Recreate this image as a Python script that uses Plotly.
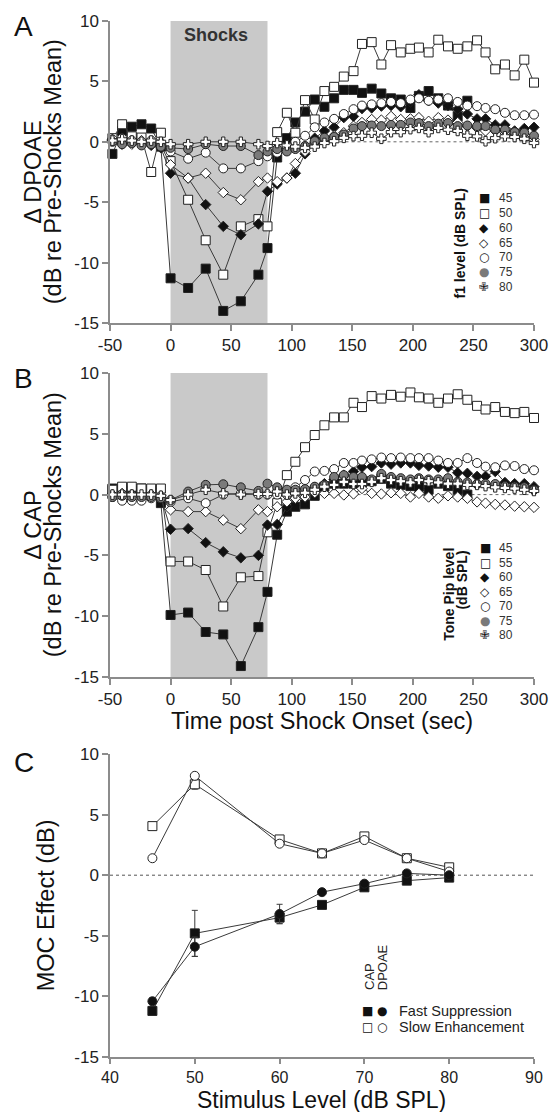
import plotly.graph_objects as go

# ---------------- data ----------------
T_PRE = [-48, -40, -32, -24, -16, -8]
T_SHOCK = [0, 14.5, 29, 43.5, 58, 72.5]
T_POST = [80, 88, 96, 103, 111, 119, 127, 135, 143, 151, 158, 166, 174, 182, 190,
          198, 205, 213, 221, 229, 237, 245, 253, 260, 268, 276, 284, 292, 300]
TIME = T_PRE + T_SHOCK + T_POST

# Panel A: DPOAE change, by f1 level
A_LEVELS = ["45", "50", "60", "65", "70", "75", "80"]
A_45 = [-1.0, 0.9, 1.25, 1.45, 1.1, -0.4,
        -11.3, -12.1, -10.5, -14.0, -13.2, -11.0,
        -8.8, -1.3, 0.3, 1.6, 2.5, 3.5, 2.9, 3.6, 4.3, 4.3, 4.05, 4.4, 4.0, 3.6, 3.5,
        2.8, 3.8, 4.2, 3.6, 3.0, 2.1, 3.4]
A_50 = [0.3, 1.45, 0.45, 0.35, -2.5, 0.75,
        -1.6, -4.8, -8.15, -11.0, -7.0, -6.4,
        -7.0, 0.8, 2.4, 0.75, 3.45, 1.85, 4.2, 4.55, 5.4, 5.85, 8.1, 8.25, 6.4, 8.0, 7.4,
        7.7, 7.8, 7.4, 8.45, 7.9, 7.7, 7.9, 8.4, 7.4, 6.0, 6.4, 5.5, 6.8, 4.9]
A_60 = [0.1, -0.2, 0.1, -0.2, -0.3, -0.5,
        -2.6, -3.0, -5.2, -7.0, -7.7, -6.8,
        -4.1, -3.5, -3.0, -2.6, -1.0, 0.3, 0.9, 1.2, 2.0, 2.1, 2.75, 2.8, 2.95, 3.0, 2.9,
        3.3, 3.9, 3.4, 3.2, 3.0, 2.7, 2.3, 1.9, 1.9, 1.4, 1.4, 0.9, 1.1, 1.2]
A_65 = [0.2, 0.0, -0.2, 0.1, -0.1, -0.3,
        -1.9, -3.0, -2.6, -4.2, -4.8, -3.3,
        -3.0, -3.3, -3.0, -1.8, -0.8, -0.1, 0.2, 0.5, 0.75, 1.3, 1.6, 1.85, 1.8, 2.1, 1.85,
        1.9, 2.0, 1.7, 2.0, 1.8, 1.6, 1.3, 1.15, 0.9, 0.9, 0.75, 0.5, 0.35, 0.2]
A_70 = [0.2, 0.3, 0.1, 0.0, 0.1, -0.2,
        -0.8, -1.4, -0.9, -2.2, -2.2, -1.6,
        -1.2, -0.9, -0.5, 0.0, 0.5, 1.2, 1.6, 1.9, 2.3, 2.7, 3.0, 3.1, 3.2, 3.3, 3.2,
        3.5, 3.6, 3.4, 3.5, 3.6, 3.3, 3.0, 2.95, 2.8, 2.7, 2.4, 2.2, 2.2, 2.25]
A_75 = [0.0, -0.2, -0.1, -0.3, -0.2, -0.4,
        -0.5, -0.6, -0.2, -0.35, -0.35, -1.1,
        -0.8, -0.6, -0.8, -0.6, -0.35, 0.05, 0.33, 0.4, 0.6, 1.1, 1.3, 1.35, 1.3, 1.4, 1.4,
        1.6, 1.55, 1.3, 1.5, 1.55, 1.3, 1.35, 1.3, 1.3, 1.0, 1.0, 0.8, 0.75, 0.5]
A_80 = [0.1, 0.2, 0.1, 0.0, 0.1, 0.0,
        -0.2, -0.2, 0.0, 0.0, 0.0, -0.2,
        -0.35, -0.1, -0.3, -0.4, -0.5, -0.4, -0.1, 0.05, 0.33, 0.47, 0.5, 0.75, 0.25, 0.8, 0.8,
        1.05, 1.15, 0.8, 1.15, 1.0, 0.9, 0.5, 0.45, 0.05, 0.3, 0.45, 0.4, 0.25, -0.1]

# Panel B: CAP change, by tone pip level
B_LEVELS = ["45", "55", "60", "65", "70", "75", "80"]
B_45 = [0.5, 0.4, 0.3, 0.5, 0.3, -0.7,
        -9.9, -9.7, -11.3, -11.5, -14.1, -10.9,
        -8.0, -3.3, -1.4, -1.0, -0.8, -0.1, 0.65, 0.9, 0.9, 0.9, 1.0, 1.1, 1.3, 0.9, 0.8,
        0.7, 0.65, 0.4, 0.9, 0.7, 0.4, 0.0]
B_55 = [0.4, 0.65, 0.65, 0.5, 0.5, 0.5,
        -5.5, -5.5, -6.2, -9.2, -6.8, -6.7,
        -3.1, -0.7, 1.6, 2.7, 3.9, 4.9, 5.7, 6.35, 6.35, 7.55, 7.2, 8.1, 7.9, 8.2, 8.05,
        8.4, 8.0, 7.9, 7.55, 7.9, 8.25, 7.8, 7.3, 7.0, 7.2, 6.8, 6.7, 6.8, 6.3]
B_60 = [0.0, -0.1, 0.0, -0.1, 0.0, -0.2,
        -2.85, -2.8, -3.95, -4.7, -5.2, -5.0,
        -2.5, -2.45, -1.0, -0.3, 0.2, 0.6, 0.9, 1.25, 1.6, 1.9, 2.25, 2.3, 2.6, 2.5, 2.6,
        2.6, 2.4, 2.35, 2.25, 2.25, 1.8, 1.75, 1.5, 1.5, 1.9, 1.0, 0.9, 0.9, 0.65]
B_65 = [0.0, 0.1, 0.0, -0.1, 0.0, -0.1,
        -1.25, -1.4, -1.4, -2.1, -2.8, -1.25,
        -1.4, -1.0, -0.6, -0.3, -0.2, 0.15, 0.1, 0.1, -0.03, 0.05, 0.5, 0.1, 0.05, 0.15, 0.1,
        -0.2, 0.1, -0.2, -0.3, -0.1, -0.2, -0.3, -0.6, -0.7, -0.8, -0.85, -0.95, -1.0, -1.05]
B_70 = [-0.2, -0.5, -0.5, -0.5, -0.3, -0.3,
        -0.6, -0.3, -0.7, 0.0, 0.1, 0.0,
        0.0, 0.0, 0.0, 0.6, 1.2, 1.9, 1.95, 2.1, 2.6, 2.6, 2.8, 2.9, 3.05, 3.0, 3.05,
        3.0, 3.0, 3.0, 2.8, 2.6, 2.6, 3.0, 2.6, 2.3, 2.25, 2.4, 2.35, 2.1, 2.0]
B_75 = [-0.2, -0.1, -0.2, -0.2, -0.2, -0.3,
        -0.45, 0.25, 0.8, 0.85, 0.6, 0.3,
        0.9, 0.6, 0.4, 0.4, 0.45, 0.65, 0.8, 1.45, 1.6, 1.45, 1.45, 1.25, 1.7, 1.45, 1.35,
        1.25, 1.35, 1.25, 1.25, 1.35, 1.05, 1.0, 0.87, 0.9, 0.87, 0.7, 0.65, 0.6, 0.4]
B_80 = [0.0, 0.0, 0.0, 0.0, 0.0, -0.1,
        -0.45, 0.0, 0.4, 0.1, 0.0, 0.05,
        0.05, 0.25, 0.0, 0.1, 0.15, 0.4, 0.65, 0.8, 1.05, 0.87, 0.87, 1.05, 1.35, 1.2, 1.1,
        1.0, 1.2, 1.1, 1.0, 0.9, 0.9, 0.8, 0.8, 0.7, 0.6, 0.55, 0.5, 0.4, 0.3]

# Panel C: MOC effect vs stimulus level
LEVEL = [45, 50, 60, 65, 70, 75, 80]
CAP_FAST = [-11.2, -4.8, -3.5, -2.45, -1.0, -0.45, -0.2]
CAP_FAST_ERR = [0.3, 1.9, 0.5, 0.0, 0.0, 0.0, 0.0]
DPOAE_FAST = [-10.4, -5.9, -3.2, -1.4, -0.7, 0.15, 0.0]
DPOAE_FAST_ERR = [0.3, 0.8, 0.8, 0.0, 0.0, 0.0, 0.0]
CAP_SLOW = [4.05, 7.5, 2.95, 1.8, 3.2, 1.4, 0.65]
CAP_SLOW_ERR = [0.0, 0.4, 0.0, 0.0, 0.0, 0.0, 0.0]
DPOAE_SLOW = [1.4, 8.2, 2.6, 1.8, 2.9, 1.4, 0.3]

# tick labels (hyphen-minus as in the reference)
TIME_TICKS = [-50, 0, 50, 100, 150, 200, 250, 300]
LEVEL_TICKS = [40, 50, 60, 70, 80, 90]
DB_TICKS = [-15, -10, -5, 0, 5, 10]

# ---------------- layout helpers ----------------
W, H = 560, 1112
ML, MR, MT, MB = 110, 17, 21, 55
PW, PH = W - ML - MR, H - MT - MB


def px(x):
    return (x - ML) / PW


def py(y):
    return (H - MB - y) / PH


FONT = "Liberation Sans, Arial, Helvetica, sans-serif"
SYM = "DejaVu Sans"
AX_COL = "#8c8c8c"
LINE_COL = "#3a3a3a"
EDGE = "#222222"

STYLE = [  # symbol, fill, size
    ("square", "#111111", 9),
    ("square", "#ffffff", 9),
    ("diamond", "#111111", 8),
    ("diamond", "#ffffff", 8),
    ("circle", "#ffffff", 9),
    ("circle", "#7a7a7a", 9),
    ("cross", "#ffffff", 8),
]

fig = go.Figure()


def add_series(xs, ys, idx, xa, ya):
    sym, fill, size = STYLE[idx]
    fig.add_trace(go.Scatter(
        x=xs[:len(ys)], y=ys, mode="lines+markers", xaxis=xa, yaxis=ya,
        line=dict(color=LINE_COL, width=1),
        marker=dict(symbol=sym, color=fill, size=size, line=dict(color=EDGE, width=1)),
        cliponaxis=False, showlegend=False, hoverinfo="skip"))


for i, ys in enumerate([A_45, A_50, A_60, A_65, A_70, A_75, A_80]):
    add_series(TIME, ys, i, "x", "y")
for i, ys in enumerate([B_45, B_55, B_60, B_65, B_70, B_75, B_80]):
    add_series(TIME, ys, i, "x2", "y2")


def add_c(ys, err, sym, fill):
    fig.add_trace(go.Scatter(
        x=LEVEL, y=ys, mode="lines+markers", xaxis="x3", yaxis="y3",
        line=dict(color=LINE_COL, width=1),
        marker=dict(symbol=sym, color=fill, size=9, line=dict(color=EDGE, width=1)),
        error_y=dict(type="data", array=err, color=LINE_COL, thickness=1, width=3,
                     visible=err is not None),
        cliponaxis=False, showlegend=False, hoverinfo="skip"))


add_c(CAP_SLOW, CAP_SLOW_ERR, "square", "#ffffff")
add_c(DPOAE_SLOW, None, "circle", "#ffffff")
add_c(CAP_FAST, CAP_FAST_ERR, "square", "#111111")
add_c(DPOAE_FAST, DPOAE_FAST_ERR, "circle", "#111111")

axis_common = dict(showline=True, linecolor=AX_COL, linewidth=1.5, ticks="outside",
                   tickwidth=1.5, tickcolor=AX_COL, showgrid=False, zeroline=False)
TICKFONT = dict(family=FONT, size=17, color="#222")


def labels(vals):
    return [str(v).replace("\u2212", "-") for v in vals]


yt = dict(range=[-15, 10], tickvals=DB_TICKS, ticktext=labels(DB_TICKS), ticklen=6,
          tickfont=TICKFONT, **axis_common)
xt = dict(range=[-50, 300], tickvals=TIME_TICKS, ticktext=labels(TIME_TICKS), ticklen=6,
          tickfont=TICKFONT, **axis_common)

fig.update_layout(
    width=W, height=H, margin=dict(l=ML, r=MR, t=MT, b=MB),
    paper_bgcolor="white", plot_bgcolor="white",
    xaxis=dict(domain=[0, 1], anchor="y", **xt),
    yaxis=dict(domain=[py(323), py(21)], anchor="x", **yt),
    xaxis2=dict(domain=[0, 1], anchor="y2", **xt),
    yaxis2=dict(domain=[py(677), py(373)], anchor="x2", **yt),
    xaxis3=dict(domain=[0, 1], anchor="y3", range=[40, 90], tickvals=LEVEL_TICKS,
                ticktext=labels(LEVEL_TICKS), ticklen=5,
                tickfont=dict(family=FONT, size=16, color="#222"), **axis_common),
    yaxis3=dict(domain=[py(1057), py(754)], anchor="x3", **yt),
)

# shock shading + zero lines
for xr, yr in [("x", "y"), ("x2", "y2")]:
    fig.add_shape(type="rect", xref=xr, yref=yr, x0=0, x1=80, y0=-15, y1=10,
                  fillcolor="#c9c9c9", line=dict(width=0), layer="below")
    fig.add_shape(type="line", xref=xr, yref=yr, x0=80, x1=300, y0=0, y1=0,
                  line=dict(color="#666", width=1, dash="dot"), layer="below")
fig.add_shape(type="line", xref="x3", yref="y3", x0=40, x1=90, y0=0, y1=0,
              line=dict(color="#555", width=1, dash="dot"), layer="below")


def ann(text, x, y, size, xanchor="center", yanchor="middle", angle=0, family=FONT,
        color="#111", bold=False):
    if bold:
        text = "<b>" + text + "</b>"
    fig.add_annotation(text=text, x=px(x), y=py(y), xref="paper", yref="paper",
                       showarrow=False, xanchor=xanchor, yanchor=yanchor,
                       textangle=angle, font=dict(family=family, size=size, color=color))


# panel letters
ann("A", 22, 27, 28)
ann("B", 22, 378, 28)
ann("C", 22, 762, 28)

# titles
ann("Shocks", 218, 35, 18, bold=True, color="#333")
ann("\u0394 DPOAE", 31, 172, 23.5, angle=-90)
ann("(dB re Pre-Shocks Mean)", 52, 172, 23.5, angle=-90)
ann("\u0394 CAP", 31, 525, 23.5, angle=-90)
ann("(dB re Pre-Shocks Mean)", 52, 525, 23.5, angle=-90)
ann("MOC Effect (dB)", 45, 905, 23.5, angle=-90)
ann("Time post Shock Onset (sec)", 326, 721, 23.5)
ann("Stimulus Level (dB SPL)", 326, 1099.5, 23)

# legends A and B
GLYPHS = [("\u25A0", "#111"), ("\u25A1", "#111"), ("\u25C6", "#111"), ("\u25C7", "#111"),
          ("\u25CB", "#111"), ("\u25CF", "#7a7a7a"), ("\u2719", "#111")]
A_ROWS = [198, 213, 228, 243, 257, 272, 287]
B_ROWS = [548, 563, 577, 592, 606, 621, 635]
for (g, c), lab, ya in zip(GLYPHS, A_LEVELS, A_ROWS):
    ann(g, 492, ya, 12, family=SYM, color=c)
    ann(lab, 505, ya, 12, xanchor="left", color="#333")
for (g, c), lab, yb in zip(GLYPHS, B_LEVELS, B_ROWS):
    ann(g, 493, yb, 12, family=SYM, color=c)
    ann(lab, 505, yb, 12, xanchor="left", color="#333")
ann("f1 level (dB SPL)", 467, 244, 14, angle=-90, bold=True)
ann("Tone Pip level", 456, 594, 14, angle=-90, bold=True)
ann("(dB SPL)", 469, 580, 14, angle=-90, bold=True)

# legend C
ann("CAP", 375, 992, 13, angle=-90, yanchor="bottom", color="#222")
ann("DPOAE", 388, 992, 13, angle=-90, yanchor="bottom", color="#222")
ann("\u25A0", 373, 1011, 12, family=SYM)
ann("\u25CF", 388, 1011, 12, family=SYM)
ann("Fast Suppression", 403, 1011, 14.5, xanchor="left", color="#222")
ann("\u25A1", 373, 1027, 12, family=SYM)
ann("\u25CB", 388, 1027, 12, family=SYM)
ann("Slow Enhancement", 403, 1027, 14.5, xanchor="left", color="#222")

fig.write_html("out.html", config={"displayModeBar": False},
               post_script="document.body.style.margin='0';"
                           "document.body.style.overflow='hidden';")
